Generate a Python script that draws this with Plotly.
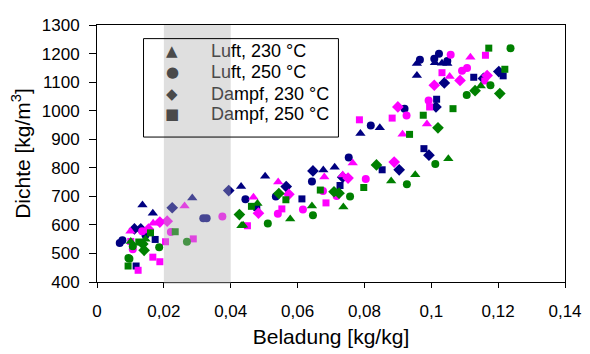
import plotly.graph_objects as go

# ---- data (Beladung [kg/kg], Dichte [kg/m3]) ----
navy_tri_x = [0.0136, 0.0167, 0.0285, 0.0431, 0.0503, 0.0677, 0.0711, 0.0788, 0.0846, 0.0957, 0.1011, 0.1032, 0.1048, 0.0957]
navy_tri_y = [670, 641, 694, 734, 770, 792, 802, 920, 940, 1165, 1168, 1166, 1165, 1123]
navy_cir_x = [0.0068, 0.0076, 0.0145, 0.0318, 0.0328, 0.0444, 0.0535, 0.0643, 0.0753, 0.0819, 0.0920, 0.0966, 0.1023, 0.1009, 0.1048]
navy_cir_y = [537, 546, 565, 623, 623, 690, 699, 752, 836, 948, 1007, 1178, 1199, 1182, 1174]
navy_dia_x = [0.0112, 0.0131, 0.0225, 0.0394, 0.0566, 0.0646, 0.0735, 0.0904, 0.0993, 0.1039, 0.1014, 0.1156, 0.1202]
navy_dia_y = [586, 586, 660, 720, 734, 789, 767, 793, 844, 1097, 1013, 1113, 1137]
navy_sq_x = [0.0174, 0.0117, 0.0478, 0.0613, 0.0727, 0.0853, 0.0978, 0.1016, 0.1127, 0.1215]
navy_sq_y = [549, 456, 661, 691, 738, 793, 867, 1040, 1117, 1122]

mag_tri_x = [0.0100, 0.0168, 0.0262, 0.0542, 0.0468, 0.0680, 0.0735, 0.0765, 0.0914, 0.1117, 0.1055, 0.0987]
mag_tri_y = [578, 606, 666, 750, 697, 768, 775, 817, 917, 1187, 1120, 953]
mag_cir_x = [0.0135, 0.0107, 0.0221, 0.0375, 0.0541, 0.0676, 0.0616, 0.0717, 0.0804, 0.0926, 0.0992, 0.1058, 0.1092, 0.1107]
mag_cir_y = [578, 515, 575, 629, 639, 719, 654, 701, 761, 983, 1036, 1196, 1140, 1149]
mag_dia_x = [0.0210, 0.0188, 0.0154, 0.0483, 0.0574, 0.0751, 0.0889, 0.0900, 0.1009, 0.1086, 0.1167]
mag_dia_y = [613, 610, 585, 641, 707, 764, 820, 1013, 1089, 1106, 1123]
mag_sq_x = [0.0101, 0.0205, 0.0288, 0.0167, 0.0188, 0.0123, 0.0450, 0.0553, 0.0685, 0.0785, 0.0883, 0.1032, 0.0995, 0.1160, 0.1162]
mag_sq_y = [542, 541, 551, 487, 471, 441, 597, 656, 677, 968, 974, 1133, 1013, 1104, 1194]

grn_tri_x = [0.0145, 0.0101, 0.0432, 0.0437, 0.0480, 0.0578, 0.0643, 0.0737, 0.0880, 0.0952, 0.1051, 0.1148]
grn_tri_y = [550, 542, 597, 599, 675, 621, 666, 663, 754, 776, 832, 1086]
grn_cir_x = [0.0107, 0.0186, 0.0094, 0.0097, 0.0269, 0.0511, 0.0646, 0.0757, 0.0927, 0.1012, 0.1106, 0.1177, 0.1237]
grn_cir_y = [525, 522, 484, 481, 541, 605, 634, 699, 742, 813, 1055, 1089, 1219]
grn_dia_x = [0.0137, 0.0141, 0.0426, 0.0544, 0.0709, 0.0724, 0.0836, 0.1020, 0.1131, 0.1205]
grn_dia_y = [533, 511, 636, 710, 716, 711, 810, 940, 1070, 1060]
grn_sq_x = [0.0160, 0.0125, 0.0234, 0.0093, 0.0462, 0.0565, 0.0668, 0.0798, 0.0935, 0.0976, 0.1065, 0.1172, 0.1220]
grn_sq_y = [572, 540, 576, 456, 665, 688, 722, 731, 917, 984, 1007, 1219, 1145]

legend_names = ["Luft, 230 °C", "Luft, 250 °C", "Dampf, 230 °C", "Dampf, 250 °C"]
legend_glyphs = ["▲", "●", "◆", "■"]
x_tickvals = [0, 0.02, 0.04, 0.06, 0.08, 0.1, 0.12, 0.14]
x_ticktext = ["0", "0,02", "0,04", "0,06", "0,08", "0,1", "0,12", "0,14"]
y_tickvals = [400, 500, 600, 700, 800, 900, 1000, 1100, 1200, 1300]
y_ticktext = ["400", "500", "600", "700", "800", "900", "1000", "1100", "1200", "1300"]
band = [0.02, 0.04]

NAVY, MAG, GRN = "#000080", "#ff00ff", "#008000"
FADED = "#4a4a4a"
symbols = ["triangle-up", "circle", "diamond", "square"]

series = [
    (navy_tri_x, navy_tri_y, NAVY, 0), (navy_cir_x, navy_cir_y, NAVY, 1),
    (navy_dia_x, navy_dia_y, NAVY, 2), (navy_sq_x, navy_sq_y, NAVY, 3),
    (mag_tri_x, mag_tri_y, MAG, 0), (mag_cir_x, mag_cir_y, MAG, 1),
    (mag_dia_x, mag_dia_y, MAG, 2), (mag_sq_x, mag_sq_y, MAG, 3),
    (grn_tri_x, grn_tri_y, GRN, 0), (grn_cir_x, grn_cir_y, GRN, 1),
    (grn_dia_x, grn_dia_y, GRN, 2), (grn_sq_x, grn_sq_y, GRN, 3),
]

fig = go.Figure()
sizes = [9, 8, 9, 7]
for xs, ys, col, si in series:
    fig.add_trace(go.Scatter(x=xs, y=ys, mode="markers", showlegend=False,
                             marker=dict(symbol=symbols[si], color=col, size=sizes[si],
                                         line=dict(width=0))))

FONT = "Arial, Liberation Sans, sans-serif"

# legend drawn as text (box + glyph + label)
rows_y = [0.8985, 0.8158, 0.7331, 0.6541]
annotations = []
for name, glyph, ry in zip(legend_names, legend_glyphs, rows_y):
    annotations.append(dict(xref="paper", yref="paper", x=0.1607, y=ry, text=glyph,
                            showarrow=False, xanchor="center", yanchor="middle",
                            font=dict(family="DejaVu Sans", size=15, color=FADED)))
    head = 2
    label = f"<span style='color:{FADED}'>{name[:head]}</span>{name[head:]}"
    annotations.append(dict(xref="paper", yref="paper", x=0.2389, y=ry, text=label,
                            showarrow=False, xanchor="left", yanchor="middle",
                            font=dict(family=FONT, size=18, color="black")))

fig.update_layout(
    width=582, height=346,
    margin=dict(l=89, r=20, t=8, b=72),
    paper_bgcolor="white", plot_bgcolor="white",
    font=dict(family=FONT, size=17, color="black"),
    showlegend=False,
    xaxis=dict(range=[0, 0.14], tickvals=x_tickvals, ticktext=x_ticktext,
               showgrid=False, zeroline=False, showline=True, linecolor="black",
               linewidth=1, mirror=True, ticks="outside", ticklen=5,
               tickcolor="black", tickfont=dict(size=17), ticklabelstandoff=9,
               ticklabeloverflow="allow",
               title=dict(text="Beladung [kg/kg]", font=dict(size=21), standoff=8)),
    yaxis=dict(range=[400, 1300], tickvals=y_tickvals, ticktext=y_ticktext,
               showgrid=False, zeroline=False, showline=True, linecolor="black",
               linewidth=1, mirror=True, ticks="outside", ticklen=7,
               tickcolor="black", tickfont=dict(size=17), ticklabelstandoff=6,
               ticklabeloverflow="allow",
               title=dict(text="Dichte [kg/m<sup>3</sup>]", font=dict(size=21), standoff=10)),
    annotations=annotations,
    shapes=[
        dict(type="rect", xref="x", yref="paper", x0=band[0], x1=band[1], y0=-0.008, y1=1,
             fillcolor="rgba(175,175,175,0.4)", line=dict(width=0), layer="above"),
        dict(type="rect", xref="paper", yref="paper", x0=0.0994, x1=0.5159, y0=0.564, y1=0.947,
             fillcolor="rgba(0,0,0,0)", line=dict(color="black", width=1), layer="above"),
    ],
)

fig.write_html("out.html")
